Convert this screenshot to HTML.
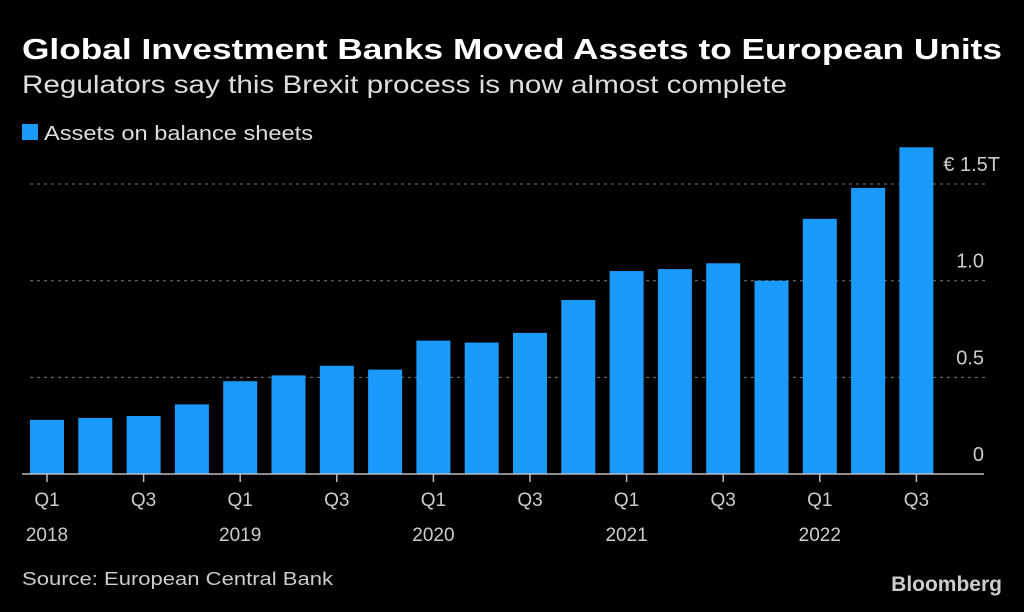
<!DOCTYPE html>
<html><head><meta charset="utf-8"><style>
body{margin:0;background:#000;width:1024px;height:607px;overflow:hidden;font-family:"Liberation Sans",sans-serif;color:#fff}
</style></head><body>
<svg width="1024" height="607">
<text x="22" y="59" font-size="29" font-weight="bold" fill="#fff" textLength="980" lengthAdjust="spacingAndGlyphs">Global Investment Banks Moved Assets to European Units</text>
<text x="22" y="93" font-size="25" fill="#ddd" textLength="765" lengthAdjust="spacingAndGlyphs">Regulators say this Brexit process is now almost complete</text>
<rect x="22" y="124" width="16" height="16" fill="#1a9bfc"/>
<text x="44" y="140" font-size="20" fill="#ddd" textLength="269" lengthAdjust="spacingAndGlyphs">Assets on balance sheets</text>
<g id="grid"></g><g id="bars"></g><g id="axis"></g>
<text x="22" y="585" font-size="18" fill="#ccc" textLength="311" lengthAdjust="spacingAndGlyphs">Source: European Central Bank</text>
<text x="1002" y="591" font-size="21" font-weight="bold" fill="#ccc" text-anchor="end">Bloomberg</text>
</svg>
<script>
const categories=["Q1 2018","Q2 2018","Q3 2018","Q4 2018","Q1 2019","Q2 2019","Q3 2019","Q4 2019","Q1 2020","Q2 2020","Q3 2020","Q4 2020","Q1 2021","Q2 2021","Q3 2021","Q4 2021","Q1 2022","Q2 2022","Q3 2022"];
const values=[0.28,0.29,0.30,0.36,0.48,0.51,0.56,0.54,0.69,0.68,0.73,0.90,1.05,1.06,1.09,1.00,1.32,1.48,1.69];
const yTicks=[0,0.5,1.0,1.5];
const yTickLabels=["0","0.5","1.0","€ 1.5T"];
const xTickIdx=[0,2,4,6,8,10,12,14,16,18];
const xTickTop=["Q1","Q3","Q1","Q3","Q1","Q3","Q1","Q3","Q1","Q3"];
const xTickBottom=["2018","","2019","","2020","","2021","","2022",""];
const NS="http://www.w3.org/2000/svg";
const base=474,pxPer=193.3,x0=30,step=48.3,bw=34;
const y=v=>base-v*pxPer;const x=i=>x0+i*step;
function mk(t,a,p){const e=document.createElementNS(NS,t);for(const k in a)e.setAttribute(k,a[k]);p.appendChild(e);return e;}
const grid=document.getElementById('grid'),bars=document.getElementById('bars'),axis=document.getElementById('axis');
yTicks.forEach((v,i)=>{
 if(v>0){const l=mk('line',{x1:30,x2:985,y1:y(v),y2:y(v),stroke:'#777','stroke-dasharray':'3,4','stroke-width':1},grid);
 
 }
 const last=i===yTicks.length-1;
 const t=mk('text',{x:last?1000:984,y:y(v)-13,'font-size':20,fill:'#ccc','text-anchor':'end'},grid);
 t.textContent=yTickLabels[i];
 
 
});
values.forEach((v,i)=>{
 const r=mk('rect',{x:x(i),y:y(v),width:bw,height:base-y(v),fill:'#1a9bfc'},bars);
 
 
});
const ax=mk('line',{x1:22,x2:984,y1:base,y2:base,stroke:'#bbb','stroke-width':1.5},axis);


xTickIdx.forEach((idx,j)=>{
 const cx=x(idx)+bw/2;
 const tk=mk('line',{x1:cx,x2:cx,y1:base,y2:base+8,stroke:'#bbb','stroke-width':1.5},axis);
 
 
 const t=mk('text',{x:cx,y:506,'font-size':19,fill:'#ccc','text-anchor':'middle'},axis);
 t.textContent=xTickTop[j];
 
 
 if(xTickBottom[j]){const t2=mk('text',{x:cx,y:541,'font-size':19,fill:'#ccc','text-anchor':'middle'},axis);
 t2.textContent=xTickBottom[j];
 
 }
});
</script>
</body></html>
